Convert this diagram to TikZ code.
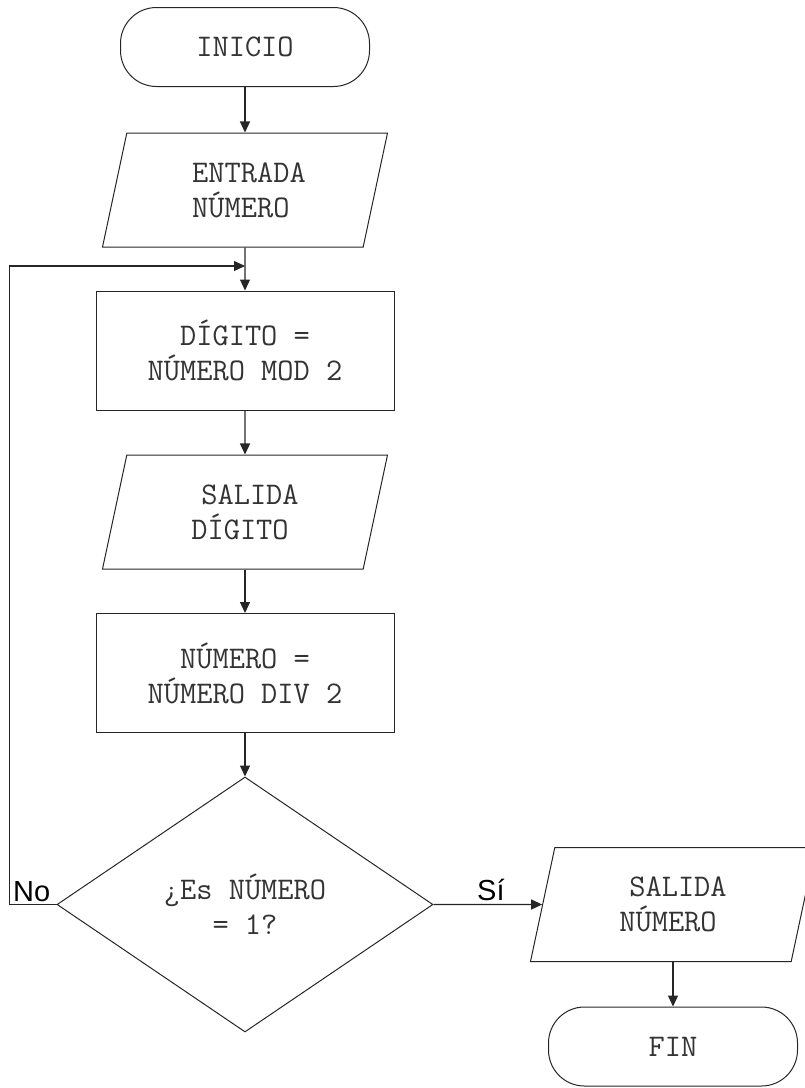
\documentclass[tikz,border=0pt]{standalone}
\usepackage{fontspec}
\newfontfamily\etiqueta{Liberation Sans}
\usetikzlibrary{arrows.meta,shapes.geometric}

\begin{document}
\begin{tikzpicture}[x=1pt, y=-1pt, >={Triangle[length=11pt,width=10pt]},
  every node/.style={font=\ttfamily\fontsize{31.5}{35}\selectfont, text=black!80},
  terminal/.style={draw=black!85, line width=1pt, rounded corners=36pt, minimum width=249pt, minimum height=79pt},
  proceso/.style={draw=black!85, line width=1pt, minimum width=298pt, minimum height=119pt, align=center},
  datos/.style={draw=black!85, line width=1pt, trapezium, trapezium left angle=68.5, trapezium right angle=111.5,
    trapezium stretches body, minimum width=285pt, minimum height=114pt, align=left},
  decision/.style={draw=black!85, line width=1pt, diamond, minimum width=376pt, minimum height=255pt, align=center, inner sep=0pt},
  flecha/.style={->, line width=1.2pt, black!85},
  rotulo/.style={font=\etiqueta\fontsize{29}{35}\selectfont, text=black, inner sep=0pt, anchor=base west}]
  \useasboundingbox (0,0) rectangle (804,1088);

  % Columna principal
  \node[terminal] (inicio) at (245,47) {INICIO};
  \node[datos] (entrada) at (245,190) {\hspace*{8pt}ENTRADA\\\hspace*{8pt}NÚMERO};
  \node[proceso] (digito) at (245,350.5) {DÍGITO =\\NÚMERO MOD 2};
  \node[datos] (salidadig) at (245,512) {\hspace*{10pt}SALIDA\\DÍGITO};
  \node[proceso] (division) at (245,673) {NÚMERO =\\NÚMERO DIV 2};
  \node[decision] (pregunta) at (245,904.5) {¿Es NÚMERO\\= 1?};

  % Salida
  \node[datos] (salidanum) at (673,904.5) {\hspace*{10pt}SALIDA\\NÚMERO};
  \node[terminal] (fin) at (673,1046.5) {FIN};

  % Flechas
  \coordinate (retorno) at (245,266);
  \draw[flecha] (inicio) -- (entrada);
  \draw[flecha] (entrada) -- (digito);
  \draw[flecha] (digito) -- (salidadig);
  \draw[flecha] (salidadig) -- (division);
  \draw[flecha] (division) -- (pregunta);
  \draw[flecha] (pregunta.west) -- ++(-47,0) |- (retorno);
  \draw[flecha] (pregunta.east) -- (salidanum);
  \draw[flecha] (salidanum) -- (fin);

  % Etiquetas
  \node[rotulo] (no) at (13,901) {No};
  \node[rotulo] (si) at (477,900) {Sí};
\end{tikzpicture}
\end{document}
